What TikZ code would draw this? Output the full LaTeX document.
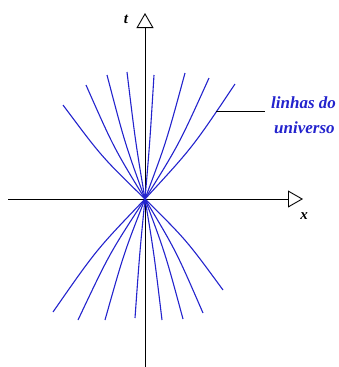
\documentclass[tikz,border=0pt]{standalone}
\usepackage{fontspec}
\setmainfont{Liberation Serif}
\usetikzlibrary{arrows.meta}
\definecolor{linhaazul}{RGB}{35,35,205}
\begin{document}
\begin{tikzpicture}[x=1pt,y=-1pt,
    eixo/.style={line width=0.9pt, -{Triangle[open,length=15pt,width=17pt,line width=0.9pt]}},
    linha/.style={linhaazul, line width=1.1pt},
    rotulo/.style={font=\bfseries\itshape\fontsize{15}{18}\selectfont, inner sep=0pt},
    legenda/.style={rotulo, text=linhaazul, font=\bfseries\itshape\fontsize{17}{20}\selectfont, anchor=base west}
  ]
  \useasboundingbox (0,0) rectangle (339,367);
  \clip (0,0) rectangle (339,367);
  \coordinate (O) at (145,199);
  % eixos
  \coordinate (tfim) at (145,367);
  \coordinate (ttopo) at (145,13);
  \coordinate (xfim) at (8,199);
  \coordinate (xtopo) at (303,199);
  \draw[eixo] (tfim) -- (ttopo);
  \draw[eixo] (xfim) -- (xtopo);
  \node[rotulo] (t) at (126,19) {t};
  \node[rotulo] (x) at (304,216) {x};
  % linhas de universo
  \foreach \ex/\ey in {63/105, 86/85, 107/75, 127/72, 154/75, 185/73, 209/78, 235/84,
                       53/312, 78/320, 105/320, 135/318, 162/320, 183/319, 203/313, 223/290}
    \draw[linha] (O) .. controls ({145+0.53*(\ex-145)},{199+0.45*(\ey-199)}) .. (\ex,\ey);
  % legenda
  \node[legenda] (linhas) at (271,108) {linhas do};
  \node[legenda] (universo) at (274,133) {universo};
  \coordinate (lfim) at (216,111);
  \draw[line width=0.9pt] (lfim) -- ([xshift=-6pt]lfim -| linhas.west);
\end{tikzpicture}
\end{document}
